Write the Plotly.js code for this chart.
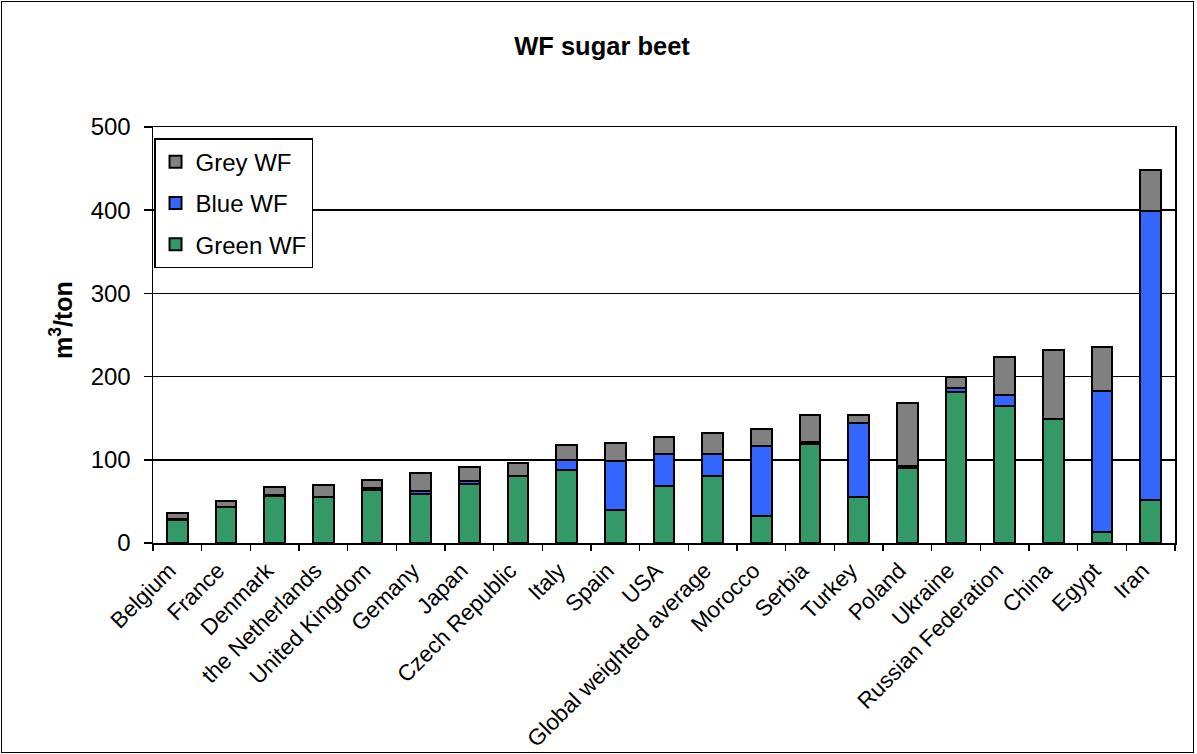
<!DOCTYPE html>
<html>
<head>
<meta charset="utf-8">
<script src="https://cdn.plot.ly/plotly-3.0.1.min.js"></script>
<style>
html,body{margin:0;padding:0;background:#fff;}
#chart{width:1197px;height:754px;}
#frame{position:absolute;left:1px;top:1px;width:1191px;height:750px;border:1px solid #000;pointer-events:none;}
</style>
</head>
<body>
<div id="chart"></div>
<div id="frame"></div>
<script>
const categories = ["Belgium","France","Denmark","the Netherlands","United Kingdom","Gemany","Japan","Czech Republic","Italy","Spain","USA","Global weighted average","Morocco","Serbia","Turkey","Poland","Ukraine","Russian Federation","China","Egypt","Iran"];
const greenWF = [28,43,57,55,64,59,71,80,88,40,69,81,33,119,55,90,182,165,149,13,52];
const blueWF  = [0.5,0.5,0.5,0.5,2,3,3,1,12,58,38,26,84,3,89,3,4,13,0.5,170,347];
const greyWF  = [8,7,10,14,10,22,17,15,18,22,20,25,20,32,10,75,14,45,82,53,49];
const yTicks = [0,100,200,300,400,500];

const line = {color:'#000', width:2};
const traces = [
  {type:'bar', name:'Green WF', legendgroup:'a', legendrank:3, x:categories, y:greenWF, marker:{color:'#339966', line:line}},
  {type:'bar', name:'Blue WF', legendgroup:'b', legendrank:2, x:categories, y:blueWF, marker:{color:'#3366FF', line:line}},
  {type:'bar', name:'Grey WF', legendgroup:'c', legendrank:1, x:categories, y:greyWF, marker:{color:'#808080', line:line}}
];
const font = {family:'"Liberation Sans", Arial, sans-serif', color:'#000'};
const layout = {
  width:1197, height:754,
  margin:{l:153, r:22, t:127, b:211},
  paper_bgcolor:'#fff', plot_bgcolor:'#fff',
  barmode:'stack', bargap:0.58,
  font:Object.assign({size:23}, font),
  showlegend:true,
  title:{text:'<b>WF sugar beet</b>', font:Object.assign({size:25.5}, font), x:602/1197, xref:'container', xanchor:'center', y:1-46/754, yref:'container', yanchor:'middle'},
  legend:{x:0.001, y:0.973, xanchor:'left', yanchor:'top', traceorder:'grouped', tracegroupgap:7, bgcolor:'#fff', bordercolor:'#000', borderwidth:1.5, font:Object.assign({size:24}, font), itemwidth:30},
  xaxis:{type:'category', tickangle:-45, ticks:'outside', tickson:'boundaries', ticklen:6, tickcolor:'#000', tickwidth:1.5, ticklabelshift:-8, ticklabelstandoff:4, showline:true, linecolor:'#000', linewidth:1.5, mirror:true, showgrid:false, tickfont:Object.assign({size:22.5}, font)},
  yaxis:{range:[0,500], tickvals:yTicks, ticktext:yTicks.map(String), ticks:'outside', ticklen:8, tickcolor:'#000', tickwidth:1.5, ticklabelstandoff:8, showline:true, linecolor:'#000', linewidth:1.5, mirror:true, showgrid:true, gridcolor:'#000', gridwidth:1.5, zeroline:false, tickfont:Object.assign({size:24}, font)},
  annotations:[{text:'<b>m<sup>3</sup>/ton</b>', xref:'paper', yref:'paper', x:(61-153)/1022, y:(543-320)/416, xanchor:'center', yanchor:'middle', textangle:-90, showarrow:false, font:Object.assign({size:25}, font)}]
};
Plotly.newPlot('chart', traces, layout, {displayModeBar:false, staticPlot:true});
</script>
</body>
</html>
